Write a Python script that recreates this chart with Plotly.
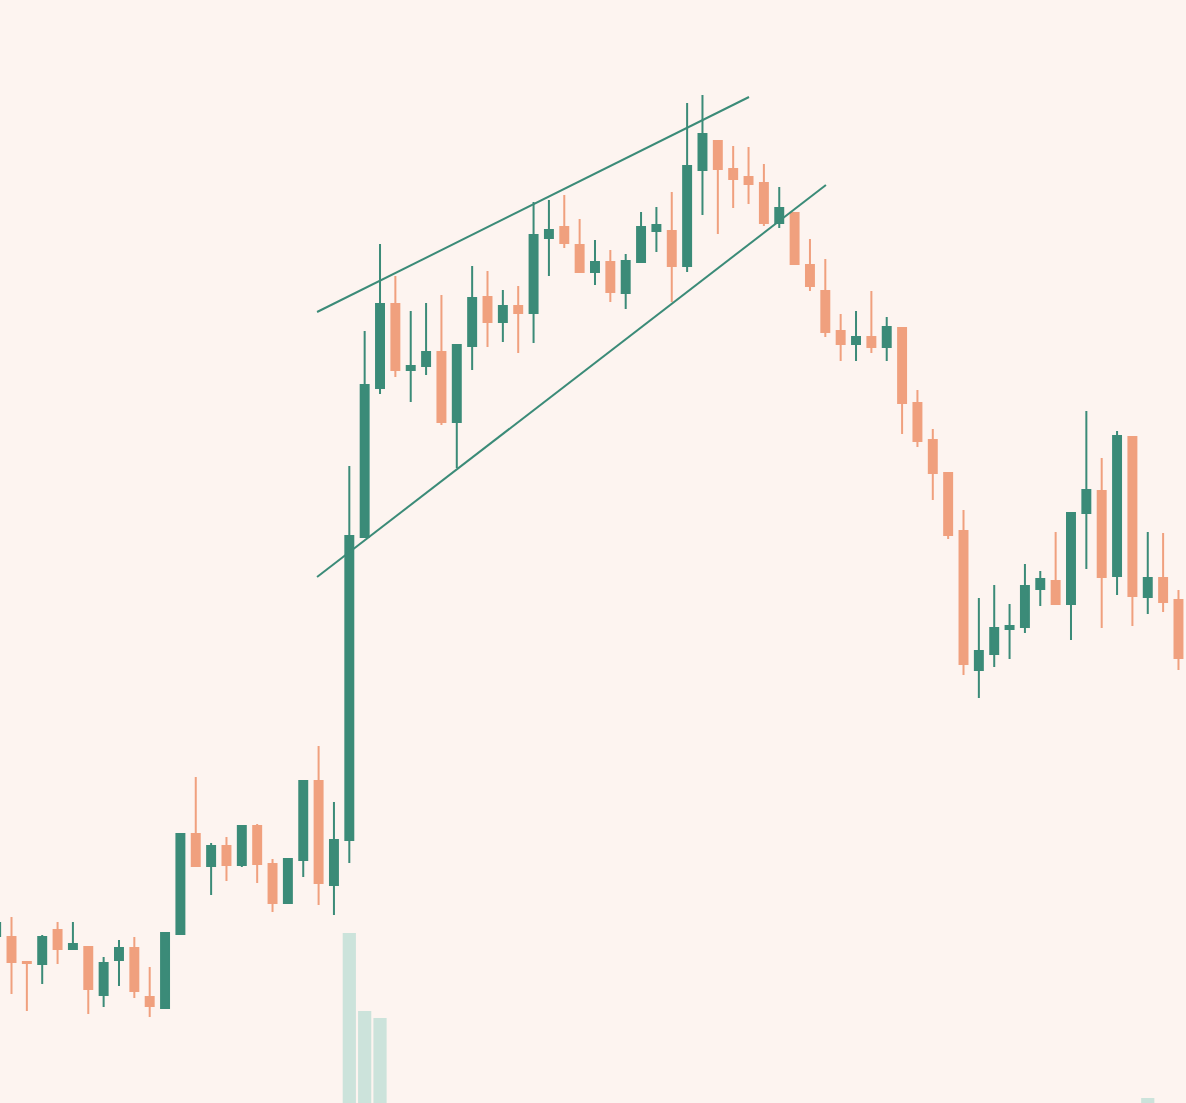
import plotly.graph_objects as go

# ---- data (price units) ----
idx = list(range(78))
open_ = [16.7, 16.6, 14.1, 13.9, 17.3, 15.4, 15.6, 10.8, 14.3, 15.5,
         10.6, 9.5, 16.9, 26.9, 23.7, 25.7, 23.8, 27.7, 23.9, 20.0,
         24.3, 32.2, 21.8, 26.3, 56.6, 71.5, 79.9, 73.3, 73.7, 75.1,
         68.1, 75.7, 80.6, 78.1, 79.7, 79.0, 86.5, 87.6, 85.8, 83.1,
         84.1, 81.0, 84.1, 87.2, 87.2, 83.7, 93.3, 96.2, 93.4, 92.6,
         92.0, 88.0, 89.0, 83.8, 81.2, 77.2, 75.9, 76.6, 75.6, 77.5,
         70.0, 66.3, 63.0, 57.2, 43.3, 44.9, 47.4, 47.6, 51.4, 52.2,
         49.9, 59.0, 61.2, 52.7, 66.6, 50.6, 52.5, 50.3]
high = [18.2, 18.6, 14.1, 16.8, 18.1, 18.1, 15.7, 14.6, 16.3, 16.6,
        13.6, 17.0, 27.0, 32.6, 26.0, 26.6, 27.8, 27.9, 24.4, 24.5,
        32.3, 35.7, 30.1, 63.7, 77.2, 85.9, 82.7, 79.2, 80.0, 80.8,
        75.9, 83.7, 83.2, 81.3, 81.7, 90.1, 90.3, 90.8, 88.4, 86.3,
        85.3, 84.9, 89.1, 89.6, 91.1, 100.0, 100.8, 96.2, 95.7, 95.6,
        93.9, 91.6, 89.0, 86.4, 84.4, 78.9, 79.2, 81.2, 78.6, 77.5,
        71.3, 67.4, 63.0, 59.3, 50.5, 51.8, 49.9, 53.9, 53.2, 57.1,
        59.1, 69.2, 64.5, 67.2, 66.6, 57.1, 57.0, 51.3]
low = [16.5, 10.9, 9.2, 11.9, 13.9, 15.3, 8.9, 9.6, 11.7, 10.5,
       8.6, 9.5, 16.9, 23.7, 20.8, 22.2, 23.6, 22.0, 19.1, 20.0,
       22.6, 19.8, 18.8, 24.0, 56.6, 70.9, 72.6, 70.1, 72.8, 67.8,
       63.5, 73.3, 75.6, 76.1, 75.0, 76.0, 82.7, 85.5, 83.0, 81.8,
       80.1, 79.4, 84.1, 85.1, 80.1, 83.1, 88.8, 86.9, 89.5, 89.9,
       87.7, 87.5, 83.9, 81.2, 76.6, 74.2, 74.2, 75.0, 74.2, 66.9,
       65.6, 60.3, 56.4, 42.8, 40.5, 43.6, 44.4, 47.0, 49.7, 49.9,
       46.3, 53.4, 47.5, 50.8, 47.7, 48.9, 49.1, 43.3]
close = [18.0, 14.1, 14.0, 16.6, 15.4, 15.9, 11.4, 14.0, 15.5, 11.2,
         9.7, 17.0, 26.9, 23.7, 25.7, 23.8, 27.7, 23.9, 20.0, 24.4,
         32.2, 22.0, 26.3, 56.7, 71.8, 79.9, 73.3, 73.7, 75.1, 68.1,
         75.8, 80.5, 78.1, 79.7, 79.0, 86.8, 87.3, 86.0, 83.1, 84.1,
         81.1, 84.2, 87.6, 87.8, 83.7, 93.7, 96.9, 93.4, 92.4, 91.9,
         88.0, 89.5, 83.9, 81.7, 77.1, 75.9, 76.6, 75.6, 77.6, 70.0,
         66.2, 63.0, 56.8, 43.9, 45.2, 47.5, 47.7, 51.7, 52.4, 49.9,
         59.0, 61.3, 52.6, 66.7, 50.7, 52.5, 50.1, 44.5]

# visible volume bars only (others fall below the visible area)
volume = [None] * 78
volume[23] = 17.0
volume[24] = 9.2
volume[25] = 8.5
volume[75] = 0.5

# wedge trendlines (start/end in index, price)
upper_x = [20.90, 49.03]
upper_y = [79.1, 100.6]
lower_x = [20.90, 54.04]
lower_y = [52.6, 91.8]

GREEN = "#3B8B78"
ORANGE = "#F0A07E"
BG = "#FDF4F0"
VOL = "#CCE3DB"

fig = go.Figure()
fig.add_trace(go.Bar(x=idx, y=volume, marker=dict(color=VOL, line=dict(width=0)),
                     width=0.86, hoverinfo="skip"))
fig.add_trace(go.Candlestick(
    x=idx, open=open_, high=high, low=low, close=close,
    increasing=dict(line=dict(color=GREEN, width=2), fillcolor=GREEN),
    decreasing=dict(line=dict(color=ORANGE, width=2), fillcolor=ORANGE),
    whiskerwidth=0,
))
fig.add_trace(go.Scatter(x=upper_x, y=upper_y, mode="lines",
                         line=dict(color=GREEN, width=2), hoverinfo="skip"))
fig.add_trace(go.Scatter(x=lower_x, y=lower_y, mode="lines",
                         line=dict(color=GREEN, width=2), hoverinfo="skip"))

fig.update_layout(
    width=1186, height=1103,
    margin=dict(l=0, r=0, t=0, b=0),
    paper_bgcolor=BG, plot_bgcolor=BG,
    showlegend=False,
    boxgap=0.26,
    xaxis=dict(range=[0.251, 77.49], visible=False, rangeslider=dict(visible=False),
               showgrid=False, zeroline=False),
    yaxis=dict(range=[0, 110.3], visible=False, showgrid=False, zeroline=False),
)

fig.write_html("out.html",
               config={"displayModeBar": False},
               post_script="document.body.style.margin='0';document.body.style.padding='0';document.body.style.background='%s';" % BG)
